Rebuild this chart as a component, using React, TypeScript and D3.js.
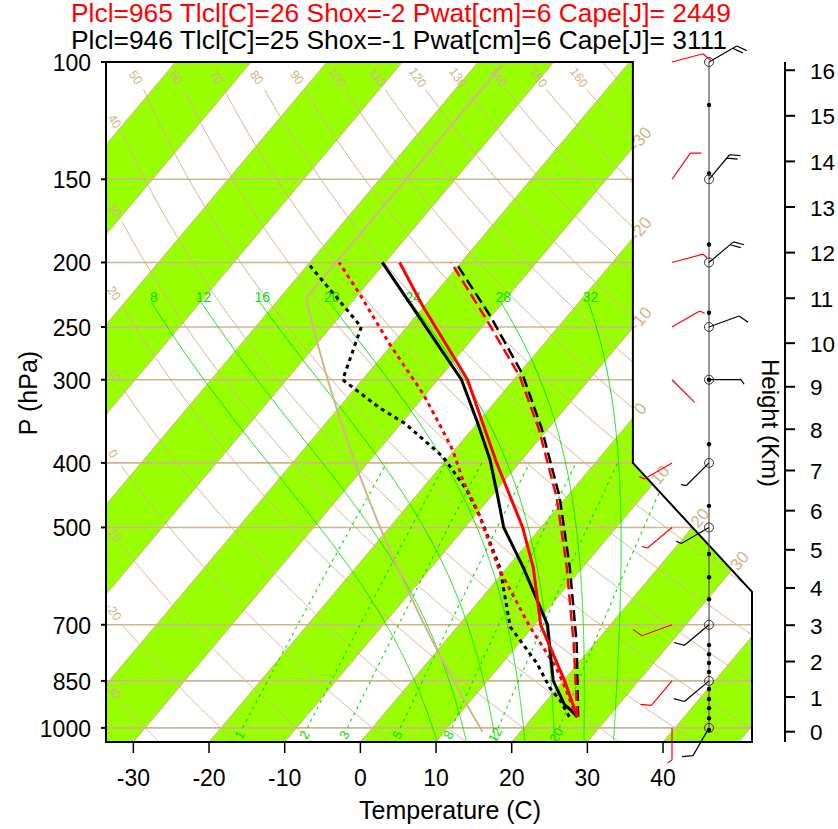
import React from 'react';
import * as d3 from 'd3';

// axis values
const pressureLevels = [100, 150, 200, 250, 300, 400, 500, 700, 850, 1000];
const temperatureTicks = [-30, -20, -10, 0, 10, 20, 30, 40];
const heightTicksKm = [0, 1, 2, 3, 4, 5, 6, 7, 8, 9, 10, 11, 12, 13, 14, 15, 16];

// background line families
const isothermLabelValues = [-30, -20, -10, 0, 10, 20, 30];
const dryAdiabatValues = [-30, -20, -10, 0, 10, 20, 30, 40, 50, 60, 70, 80, 90, 100, 110, 120, 130, 140, 150, 160, 170];
const moistAdiabatValues = [8, 12, 16, 20, 24, 28, 32];
const mixingRatioValues = [1, 2, 3, 5, 8, 12, 20];

// sounding 1 (black)
const blackTP = [963, 937, 924, 850, 700, 575, 500, 444, 396, 345, 300, 200];
const blackT = [25.9, 24.0, 22.9, 18.7, 11.7, 2.2, -4.9, -9.6, -14.2, -20.4, -26.9, -50.4];
const blackTdP = [962, 908, 872, 800, 705, 575, 482, 439, 392, 349, 331, 300, 250, 200];
const blackTd = [24.8, 21.7, 19.1, 14.6, 7.0, -0.9, -9.2, -14.0, -20.7, -29.5, -34.5, -42.6, -46.0, -60.3];
const blackParcelP = [963, 746, 573, 450, 355, 294, 241, 200];
const blackParcel = [26.0, 17.6, 8.2, -0.9, -10.9, -19.5, -30.1, -40.7];

// sounding 2 (red)
const redTP = [963, 850, 700, 575, 500, 400, 300, 233, 200];
const redT = [25.9, 20.2, 10.8, 3.5, -2.4, -13.0, -26.1, -40.1, -48.1];
const redTdP = [963, 850, 809, 705, 575, 476, 425, 383, 355, 315, 265, 223, 200];
const redTd = [25.8, 19.9, 17.4, 9.6, -1.1, -9.8, -15.5, -20.2, -24.1, -30.4, -40.4, -49.9, -56.1];
const redParcelP = [963, 746, 573, 450, 355, 297, 244, 200];
const redParcel = [25.9, 17.2, 7.8, -1.3, -11.3, -19.5, -30.2, -41.3];

// winds (deg, knots) at the standard levels
const windLevels = [100, 150, 200, 250, 300, 400, 500, 700, 850, 1000];
const blackWdir = [60, 40, 50, 70, 90, 225, 240, 230, 230, 210];
const blackWspd = [20, 20, 20, 10, 5, 5, 5, 10, 10, 10];
const redWdir = [75, 35, 75, 60, 135, 240, 230, 250, 220, 180];
const redWspd = [10, 10, 5, 5, 2, 5, 5, 10, 10, 5];
// data levels marked on the wind column
const dataLevels = [116, 147, 188, 238, 300, 375, 464, 548, 594, 641, 751, 775, 799, 824, 874, 905, 934, 967, 1007];

const titleRed = 'Plcl=965 Tlcl[C]=26 Shox=-2 Pwat[cm]=6 Cape[J]= 2449';
const titleBlack = 'Plcl=946 Tlcl[C]=25 Shox=-1 Pwat[cm]=6 Cape[J]= 3111';

const TAN = '#d2b48c';
const BAND = '#99ff00';
const GREEN = '#00e000';
const FONT = "'Liberation Sans', Arial, Helvetica, sans-serif";

// skew-T transform (NCL style units)
const yU = (p: number) => 132.182 - 44.061 * Math.log10(p);
const xU = (t: number, p: number) => 0.54 * t + 0.90692 * yU(p);
const sx = d3.scaleLinear().domain([-19, 27.1]).range([106, 752]);
const sy = d3.scaleLinear().domain([-0.9346, 44.061]).range([742, 62]);
const X = (t: number, p: number) => sx(xU(t, p));
const Y = (p: number) => sy(yU(p));

const frameU: [number, number][] = [[-19, -0.9346], [27.1, -0.9346], [27.1, 9.0], [18.6, 17.53], [18.6, 44.061], [-19, 44.061]];
const framePts = frameU.map(([a, b]) => `${sx(a)},${sy(b)}`).join(' ');

const line = d3.line<[number, number]>().x(d => d[0]).y(d => d[1]);
const tpLine = (ps: number[], ts: number[]) => line(ps.map((p, i) => [X(ts[i], p), Y(p)]));

function moistPath(thw: number, pTop: number): [number, number][] {
  const dTdp = (p: number, T: number) => {
    const es = 6.112 * Math.exp((17.67 * (T - 273.15)) / (T - 29.65));
    const rs = (0.622 * es) / (p - es);
    const num = (287.04 * T + 2.501e6 * rs) / p;
    const den = 1005.7 + (2.501e6 * 2.501e6 * rs * 0.622) / (287.04 * T * T);
    return num / den;
  };
  const up: [number, number][] = [];
  let T = thw + 273.15;
  for (let p = 1000; p >= pTop; p -= 1) {
    up.push([X(T - 273.15, p), Y(p)]);
    T -= dTdp(p - 0.5, T);
  }
  const down: [number, number][] = [];
  T = thw + 273.15;
  for (let p = 1000; p <= 1050; p += 1) {
    down.push([X(T - 273.15, p), Y(p)]);
    T += dTdp(p + 0.5, T);
  }
  return down.reverse().concat(up);
}

const mixT = (w: number, p: number) => {
  const e = (w * p) / (622 + w);
  const l = Math.log(e / 6.112);
  return (243.5 * l) / (17.67 - l);
};

const stdP = (km: number) => {
  const h = km * 1000;
  return h <= 11000 ? 1013.25 * Math.pow(1 - (0.0065 * h) / 288.15, 5.25588) : 226.32 * Math.exp(-(h - 11000) / 6341.62);
};
const stdT = (p: number) => (p >= 226.32 ? 288.15 * Math.pow(p / 1013.25, 0.190263) - 273.15 : -56.5);

function barbPath(x0: number, y0: number, dir: number, spd: number) {
  const L = 32;
  const a = (dir * Math.PI) / 180;
  const ux = Math.sin(a), uy = -Math.cos(a);
  const x1 = x0 + L * ux, y1 = y0 + L * uy;
  const th = (55 * Math.PI) / 180;
  const fx = ux * Math.cos(th) - uy * Math.sin(th);
  const fy = ux * Math.sin(th) + uy * Math.cos(th);
  let d = `M${x0},${y0}L${x1},${y1}`;
  let s = Math.round(spd / 5) * 5;
  let off = 0;
  while (s >= 10) {
    const bx = x1 - off * ux, by = y1 - off * uy;
    d += `M${bx},${by}l${fx * 11},${fy * 11}`;
    off += 4.5;
    s -= 10;
  }
  if (s >= 5) {
    const bx = x1 - off * ux, by = y1 - off * uy;
    d += `M${bx},${by}l${fx * 5.5},${fy * 5.5}`;
  }
  return d;
}

export default function App() {
  const yb = -0.9346, yt = 44.061;
  const bands: string[] = [];
  const isotherms: string[] = [];
  for (let t = -130; t <= 60; t += 10) {
    const xb1 = 0.54 * t + 0.90692 * yb, xt1 = 0.54 * t + 0.90692 * yt;
    const xb2 = 0.54 * (t + 10) + 0.90692 * yb, xt2 = 0.54 * (t + 10) + 0.90692 * yt;
    if (Math.floor(t / 10) % 2 === 0) {
      bands.push(`${sx(xb1)},${sy(yb)} ${sx(xb2)},${sy(yb)} ${sx(xt2)},${sy(yt)} ${sx(xt1)},${sy(yt)}`);
    }
    isotherms.push(`M${sx(xb1)},${sy(yb)}L${sx(xt1)},${sy(yt)}`);
  }

  const pSteps = d3.range(1050, 99.5, -2);

  const dry = dryAdiabatValues.map(th => {
    const pts: [number, number][] = pSteps.map(p => {
      const t = (th + 273.15) * Math.pow(p / 1000, 0.2857) - 273.15;
      return [X(t, p), Y(p)];
    });
    const labelled = th <= 160;
    const kept = labelled ? pts.filter(([x, y]) => x >= 121 && y >= 88) : pts;
    const top = kept[kept.length - 1];
    return { th, d: line(kept), top, labelled };
  });

  const moist = moistAdiabatValues.map(thw => {
    const pts = moistPath(thw, 230);
    return { thw, d: line(pts), top: pts[pts.length - 1] };
  });

  const mixing = mixingRatioValues.map(w => {
    const ps = d3.range(1000, 399, -5);
    const pts: [number, number][] = ps.map(p => [X(mixT(w, p), p), Y(p)]);
    return { w, d: line(pts), bottom: pts[0] };
  });

  const stdPs = d3.range(1013, 99, -2);
  const stdLine = line(stdPs.map(p => [X(stdT(p), p), Y(p)]));

  // isotherm labels at the right edge of the frame
  const dirx = 0.6436, diry = -0.7654;
  const isoLabels = isothermLabelValues.map(t => {
    let yu = (18.6 - 0.54 * t) / 0.90692;
    let xu = 18.6;
    if (yu < 17.53) {
      const k = 8.5 / 8.53;
      yu = (18.6 + k * 17.53 - 0.54 * t) / (0.90692 + k);
      xu = 0.54 * t + 0.90692 * yu;
    }
    return { t, x: sx(xu) + 12 * dirx, y: sy(yu) + 12 * diry };
  });

  const xBlack = 709, xRed = 672;
  const rightAxisX = 785;

  return (
    <svg width={838} height={829} style={{ position: 'absolute', left: 0, top: 0, background: '#fff' }} fontFamily={FONT}>
      <defs>
        <clipPath id="frameClip">
          <polygon points={framePts} />
        </clipPath>
      </defs>
      <rect x={0} y={0} width={838} height={829} fill="#fff" />

      <g clipPath="url(#frameClip)">
        {bands.map((b, i) => <polygon key={i} points={b} fill={BAND} />)}
        {isotherms.map((d, i) => <path key={i} d={d} stroke={TAN} strokeWidth={1} fill="none" />)}
        {pressureLevels.slice(1).map(p => (
          <line key={p} x1={106} x2={752} y1={Y(p)} y2={Y(p)} stroke={TAN} strokeWidth={1.6} />
        ))}
        {dry.map(a => <path key={a.th} d={a.d || ''} stroke={TAN} strokeWidth={1} fill="none" />)}
        {moist.map(m => <path key={m.thw} d={m.d || ''} stroke={GREEN} strokeWidth={1} fill="none" />)}
        {mixing.map(m => <path key={m.w} d={m.d || ''} stroke={GREEN} strokeWidth={1.1} strokeDasharray="3 4" fill="none" />)}
        <path d={stdLine || ''} stroke={TAN} strokeWidth={2} fill="none" />
      </g>

      {/* line labels */}
      {dry.filter(a => a.labelled).map(a => (
        <text key={a.th} x={a.top[0] - 8} y={a.top[1] - 12} fill={TAN} fontSize={12.5} textAnchor="middle" dominantBaseline="central"
          transform={`rotate(55 ${a.top[0] - 8} ${a.top[1] - 12})`}>{a.th}</text>
      ))}
      {moist.map(m => (
        <text key={m.thw} x={m.top[0] + 2} y={m.top[1] - 6} fill={GREEN} fontSize={14} textAnchor="middle" dominantBaseline="central">{m.thw}</text>
      ))}
      {mixing.map(m => (
        <text key={m.w} x={m.bottom[0] - 3} y={m.bottom[1] + 7} fill={GREEN} fontSize={13} textAnchor="middle" dominantBaseline="central"
          transform={`rotate(-60 ${m.bottom[0] - 3} ${m.bottom[1] + 7})`}>{m.w}</text>
      ))}
      {isoLabels.map(l => (
        <text key={l.t} x={l.x} y={l.y} fill={TAN} fontSize={17} textAnchor="middle" dominantBaseline="central"
          transform={`rotate(-50 ${l.x} ${l.y})`}>{l.t}</text>
      ))}

      {/* frame */}
      <polygon points={framePts} fill="none" stroke="#000" strokeWidth={2} />

      {/* soundings */}
      <path d={tpLine(blackParcelP, blackParcel) || ''} stroke="#000" strokeWidth={2.5} strokeDasharray="11 5" fill="none" />
      <path d={tpLine(redParcelP, redParcel) || ''} stroke="#f00" strokeWidth={2.5} strokeDasharray="11 5" fill="none" />
      <path d={tpLine(blackTdP, blackTd) || ''} stroke="#000" strokeWidth={3} strokeDasharray="4 4" fill="none" />
      <path d={tpLine(redTdP, redTd) || ''} stroke="#f00" strokeWidth={3} strokeDasharray="4 4" fill="none" />
      <path d={tpLine(blackTP, blackT) || ''} stroke="#000" strokeWidth={3} fill="none" />
      <path d={tpLine(redTP, redT) || ''} stroke="#f00" strokeWidth={3} fill="none" />

      {/* wind column */}
      <line x1={xBlack} x2={xBlack} y1={Y(100)} y2={Y(1007)} stroke="#555" strokeWidth={1.2} />
      {dataLevels.map(p => <circle key={p} cx={xBlack} cy={Y(p)} r={2.2} fill="#000" />)}
      {windLevels.map(p => <circle key={p} cx={xBlack} cy={Y(p)} r={4.5} fill="none" stroke="#333" strokeWidth={1} />)}
      {windLevels.map((p, i) => (
        <path key={'b' + p} d={barbPath(xBlack, Y(p), blackWdir[i], blackWspd[i])} stroke="#000" strokeWidth={1.2} fill="none" />
      ))}
      {windLevels.map((p, i) => (
        <path key={'r' + p} d={barbPath(xRed, Y(p), redWdir[i], redWspd[i])} stroke="#f00" strokeWidth={1.2} fill="none" />
      ))}

      {/* left axis */}
      {pressureLevels.map(p => (
        <g key={p}>
          <line x1={101} x2={106} y1={Y(p)} y2={Y(p)} stroke="#000" strokeWidth={2} />
          <text x={91} y={Y(p) + 1} fontSize={23} textAnchor="end" dominantBaseline="central">{p}</text>
        </g>
      ))}
      <text x={28} y={393} fontSize={25} textAnchor="middle" dominantBaseline="central" transform="rotate(-90 28 393)">P (hPa)</text>

      {/* bottom axis */}
      {temperatureTicks.map(t => (
        <g key={t}>
          <line x1={X(t, 1050)} x2={X(t, 1050)} y1={742} y2={753} stroke="#000" strokeWidth={1.5} />
          <text x={X(t, 1050)} y={786} fontSize={23} textAnchor="middle">{t}</text>
        </g>
      ))}
      <text x={450} y={819} fontSize={25} textAnchor="middle">Temperature (C)</text>

      {/* height axis */}
      <line x1={rightAxisX} x2={rightAxisX} y1={62} y2={742} stroke="#000" strokeWidth={2} />
      {heightTicksKm.map(h => (
        <g key={h}>
          <line x1={rightAxisX} x2={rightAxisX + 10} y1={Y(stdP(h))} y2={Y(stdP(h))} stroke="#000" strokeWidth={2} />
          <text x={810} y={Y(stdP(h)) + 1} fontSize={22.5} dominantBaseline="central">{h}</text>
        </g>
      ))}
      <text x={770} y={423} fontSize={24} textAnchor="middle" dominantBaseline="central" transform="rotate(90 770 423)">Height (Km)</text>

      {/* titles */}
      <text x={401} y={22} fontSize={25.5} fill="#f00" textAnchor="middle" textLength={660} lengthAdjust="spacingAndGlyphs">{titleRed}</text>
      <text x={399} y={49} fontSize={25.5} fill="#000" textAnchor="middle" textLength={656} lengthAdjust="spacingAndGlyphs">{titleBlack}</text>
    </svg>
  );
}
